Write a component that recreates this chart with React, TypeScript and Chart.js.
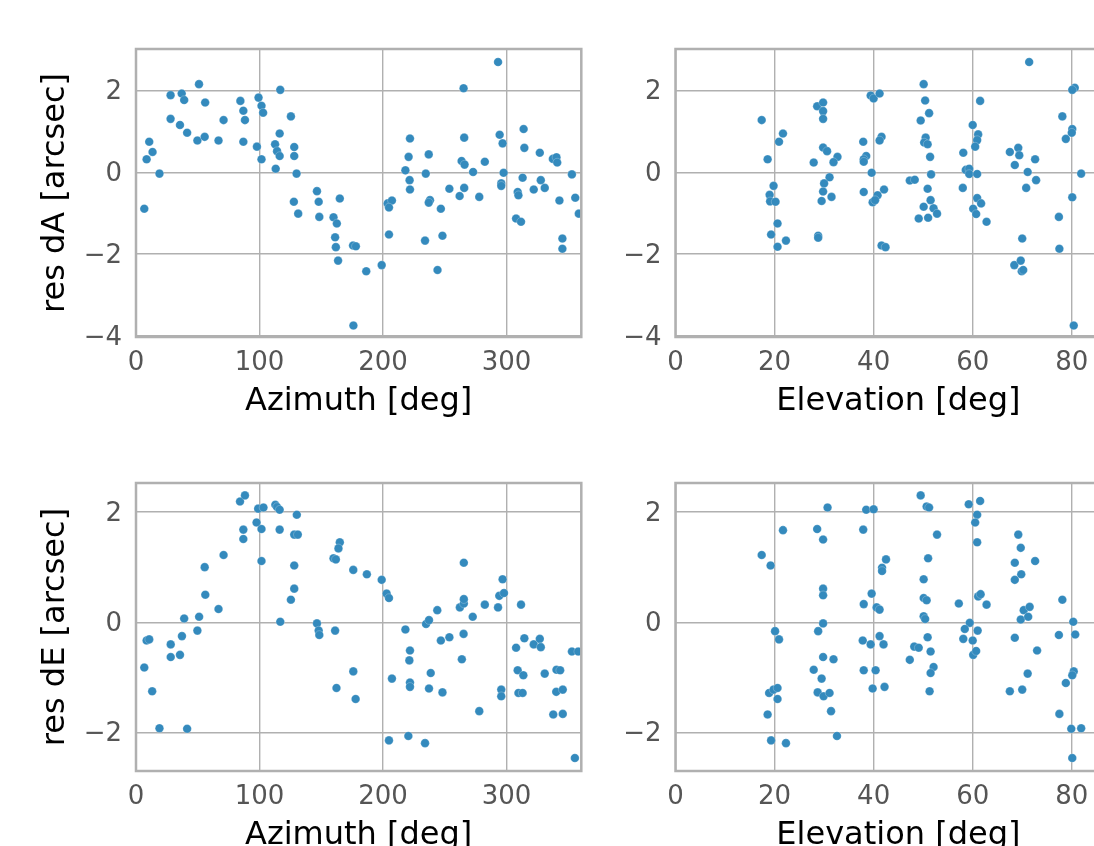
import React, { useEffect, useRef } from "react";
import { Chart, registerables } from "chart.js";
Chart.register(...registerables);

// ---- tick labels ----
const azTicks = [0, 100, 200, 300];
const elTicks = [0, 20, 40, 60, 80];
const dATicks = [-4, -2, 0, 2];
const dETicks = [-2, 0, 2];

// ---- top-left: residual dA vs azimuth ----
const azForDA = [6.7, 10.7, 13.4, 8.6, 19, 28, 28, 35.6, 37, 39, 41.4, 51, 56, 49.7, 55.6, 66.8, 70.9, 84.5, 86.9, 88.2, 86.9, 99.2, 101.6, 102.9, 97.9, 101.6, 116.8, 116.3, 112.6, 114.2, 116.3, 113.1, 125.4, 128.1, 128.1, 130, 127.8, 131.3, 146.5, 147.9, 148.4, 159.9, 162.6, 165, 161.2, 161.8, 163.6, 175.7, 178, 176, 186.4, 198.9, 204.8, 203.7, 207.2, 204.8, 221.8, 220.7, 218.1, 221.5, 221.8, 237, 234.6, 238, 237, 246.8, 234, 248.1, 244.1, 253.7, 262, 265.7, 265.2, 265.7, 263.6, 266, 272.9, 277.9, 282.4, 293.1, 294.4, 296.8, 297.6, 295.7, 295.7, 309, 309.6, 307.7, 311.7, 313.8, 314.4, 313, 322, 326.9, 327.7, 330.9, 337.5, 340.4, 341, 342.8, 345.2, 345.2, 352.9, 355.6, 358.5];
const dAvsAz = [-0.89, 0.75, 0.5, 0.32, -0.03, 1.89, 1.31, 1.16, 1.93, 1.77, 0.97, 2.16, 1.71, 0.78, 0.87, 0.78, 1.28, 1.75, 1.51, 1.28, 0.75, 1.83, 1.63, 1.46, 0.63, 0.32, 2.02, 0.95, 0.69, 0.52, 0.4, 0.09, 1.37, 0.62, 0.4, -0.03, -0.72, -1.01, -0.46, -0.72, -1.09, -1.1, -1.25, -0.64, -1.59, -1.83, -2.16, -1.79, -1.81, -3.75, -2.42, -2.27, -1.52, -0.76, -0.69, -0.86, 0.83, 0.38, 0.05, -0.19, -0.42, 0.44, -0.03, -0.68, -0.74, -0.89, -1.67, -1.55, -2.39, -0.4, -0.58, -0.38, 2.06, 0.85, 0.28, 0.19, 0.01, -0.6, 0.26, 2.7, 0.92, 0.71, -0.01, -0.27, -0.33, -0.48, -0.56, -1.13, -1.21, 1.06, 0.6, -0.13, -0.42, 0.48, -0.19, -0.38, 0.33, 0.37, 0.24, -0.69, -1.62, -1.87, -0.05, -0.62, -1.01];

// ---- top-right: residual dA vs elevation ----
const elForDA = [17.4, 21.7, 20.9, 18.6, 19.8, 19.0, 19.1, 20.2, 20.6, 19.3, 22.3, 20.6, 28.6, 29.8, 29.8, 29.8, 29.8, 30.6, 32.7, 31.9, 27.9, 31.1, 30.0, 29.8, 31.5, 29.5, 28.8, 28.8, 39.4, 40.0, 41.2, 37.9, 41.6, 41.2, 38.5, 38.0, 38.0, 39.6, 38.0, 42.1, 40.8, 39.8, 40.3, 41.6, 42.4, 50.1, 50.4, 51.2, 49.5, 50.5, 50.2, 50.9, 51.4, 51.6, 47.3, 48.3, 50.9, 51.5, 50.1, 52.1, 52.8, 49.1, 51.0, 61.5, 60.0, 61.1, 60.9, 60.5, 58.1, 58.6, 59.3, 59.3, 60.9, 58.0, 60.9, 61.7, 60.1, 60.7, 62.8, 71.4, 67.5, 69.2, 69.4, 68.5, 72.6, 71.1, 72.8, 70.8, 70.0, 68.4, 69.7, 69.9, 70.2, 80.6, 80.1, 78.1, 80.1, 80.0, 78.8, 81.9, 80.1, 77.4, 77.5, 80.4];
const dAvsEl = [1.28, 0.95, 0.75, 0.32, -0.33, -0.55, -0.71, -0.72, -1.25, -1.52, -1.67, -1.82, 1.62, 1.71, 1.5, 1.31, 0.61, 0.52, 0.38, 0.25, 0.24, -0.12, -0.27, -0.47, -0.6, -0.7, -1.55, -1.6, 1.88, 1.81, 1.93, 0.75, 0.87, 0.78, 0.4, 0.32, 0.26, -0.01, -0.48, -0.42, -0.56, -0.73, -0.68, -1.79, -1.83, 2.16, 1.76, 1.45, 1.27, 0.85, 0.73, 0.69, 0.38, -0.05, -0.2, -0.18, -0.4, -0.68, -0.84, -0.88, -1.01, -1.13, -1.11, 1.75, 1.16, 0.93, 0.79, 0.63, 0.48, 0.06, 0.09, -0.04, -0.04, -0.38, -0.63, -0.76, -0.89, -1.02, -1.21, 2.7, 0.5, 0.6, 0.42, 0.18, 0.32, 0.01, -0.19, -0.38, -1.62, -2.27, -2.16, -2.42, -2.39, 2.07, 2.02, 1.37, 1.06, 0.97, 0.82, -0.03, -0.61, -1.09, -1.87, -3.75];

// ---- bottom-left: residual dE vs azimuth ----
const azForDE = [6.7, 8.6, 10.7, 13.1, 19.0, 41.4, 28.1, 28.1, 35.6, 37.2, 39.0, 49.7, 51.1, 56.1, 55.6, 66.8, 70.9, 84.2, 88.2, 86.9, 86.9, 98.9, 103.2, 97.6, 101.6, 101.6, 112.8, 114.2, 116.3, 116.3, 116.8, 130.2, 128.1, 131.0, 128.1, 128.1, 125.4, 146.5, 147.9, 148.4, 161.2, 165.0, 163.9, 159.9, 161.8, 162.3, 175.9, 175.9, 177.8, 186.9, 198.9, 202.9, 204.8, 207.2, 204.8, 220.5, 234.0, 218.1, 221.8, 221.3, 221.8, 221.8, 234.8, 237.2, 243.9, 238.6, 237.2, 248.1, 246.8, 253.7, 265.2, 263.8, 265.4, 262.2, 265.4, 265.4, 272.6, 282.4, 277.9, 293.1, 294.1, 297.9, 296.8, 295.7, 295.7, 311.7, 307.7, 314.4, 309, 313.6, 309.6, 313, 322, 326.9, 327.7, 330.9, 340.4, 343.4, 340.2, 345.5, 337.8, 345.5, 352.9, 358, 355.3];
const dEvsAz = [-0.82, -0.33, -0.31, -1.25, -1.92, -1.93, -0.4, -0.63, -0.59, -0.25, 0.07, -0.15, 0.1, 0.5, 1.0, 0.24, 1.22, 2.19, 2.3, 1.68, 1.51, 2.06, 2.08, 1.81, 1.69, 1.11, 2.13, 2.09, 2.04, 1.68, 0.01, 1.95, 1.59, 1.59, 1.03, 0.61, 0.41, -0.02, -0.15, -0.23, -0.15, 1.45, 1.34, 1.16, 1.14, -1.19, 0.95, -0.89, -1.39, 0.87, 0.77, 0.52, 0.44, -1.02, -2.14, -2.06, -2.19, -0.13, -0.51, -0.69, -1.09, -1.17, -0.03, 0.04, 0.22, -0.92, -1.2, -1.27, -0.33, -0.27, -0.21, -0.67, 1.08, 0.27, 0.34, 0.42, 0.1, 0.32, -1.61, 0.27, 0.48, 0.53, 0.78, -1.22, -1.34, 0.32, -0.46, -0.29, -0.87, -0.96, -1.28, -1.28, -0.4, -0.3, -0.45, -0.93, -0.86, -0.87, -1.26, -1.22, -1.67, -1.66, -0.53, -0.53, -2.46];

// ---- bottom-right: residual dE vs elevation ----
const elForDE = [17.4, 19.2, 21.7, 20.1, 20.9, 18.9, 19.8, 20.6, 20.6, 18.6, 19.3, 22.3, 30.7, 28.6, 29.8, 29.8, 29.8, 29.8, 28.8, 29.8, 31.9, 27.9, 29.5, 28.7, 29.9, 31.1, 31.4, 32.6, 38.5, 40.0, 37.9, 42.5, 41.7, 41.7, 39.6, 38.0, 40.6, 41.2, 37.8, 39.4, 41.2, 42.0, 38.0, 40.4, 39.8, 42.2, 49.5, 50.7, 51.2, 52.8, 51.0, 50.1, 50.1, 50.7, 57.2, 50.1, 50.4, 50.9, 48.2, 49.1, 51.5, 47.3, 52.1, 51.5, 51.3, 59.2, 61.5, 60.9, 60.5, 60.9, 61.1, 61.6, 62.8, 59.4, 58.4, 58.1, 60.0, 61.0, 60.1, 60.7, 69.2, 69.7, 68.5, 72.6, 69.8, 68.5, 70.3, 71.5, 69.7, 71.2, 68.5, 73.0, 71.1, 67.5, 70.0, 78.1, 80.3, 77.4, 80.7, 80.4, 80.1, 78.8, 77.5, 79.9, 81.9, 80.1];
const dEvsEl = [1.22, 1.03, 1.67, -0.16, -0.31, -1.28, -1.22, -1.19, -1.39, -1.67, -2.14, -2.19, 2.08, 1.69, 1.5, 0.61, 0.49, -0.02, -0.16, -0.63, -0.67, -0.86, -1.02, -1.27, -1.34, -1.28, -1.61, -2.06, 2.04, 2.05, 1.68, 1.14, 0.99, 0.93, 0.52, 0.33, 0.27, 0.23, -0.33, -0.4, -0.25, -0.4, -0.87, -0.87, -1.2, -1.17, 2.3, 2.1, 2.08, 1.59, 1.16, 0.78, 0.44, 0.4, 0.34, 0.11, 0.06, -0.27, -0.44, -0.46, -0.53, -0.68, -0.81, -0.92, -1.25, 2.14, 2.2, 1.95, 1.81, 1.45, 0.47, 0.51, 0.32, -0.01, -0.12, -0.3, -0.33, -0.15, -0.59, -0.52, 1.59, 1.35, 1.08, 1.11, 0.87, 0.77, 0.22, 0.28, 0.05, 0.1, -0.28, -0.51, -0.93, -1.25, -1.22, 0.41, 0.01, -0.23, -0.22, -0.89, -0.96, -1.1, -1.66, -1.93, -1.92, -2.46];

const FONT = "'DejaVu Sans', sans-serif";
const GRID = "#b0b0b0";
const DOT = "#348ABD";
const PAD_TOP = 30;
const XAXIS_H = 90;
const PLOT_H = 288;
const TICK_SIZE = 26;

const fmt = (v: number) => (v < 0 ? "\u2212" + Math.abs(v) : String(v));

const spinePlugin = {
  id: "spines",
  afterDraw(chart: any) {
    const { ctx, chartArea: a } = chart;
    ctx.save();
    ctx.strokeStyle = GRID;
    ctx.lineWidth = 2.5;
    ctx.strokeRect(a.left, a.top, a.right - a.left, a.bottom - a.top);
    ctx.restore();
  },
};

type PanelProps = {
  left: number;
  top: number;
  yAxisW: number;
  plotW: number;
  xs: number[];
  ys: number[];
  xMin: number;
  xMax: number;
  yMin: number;
  yMax: number;
  xTicks: number[];
  yTicks: number[];
  xLabel: string;
  yLabel?: string;
};

function Panel(p: PanelProps) {
  const ref = useRef<HTMLCanvasElement | null>(null);
  const width = p.yAxisW + p.plotW;
  const height = PAD_TOP + PLOT_H + XAXIS_H;
  useEffect(() => {
    if (!ref.current) return;
    const chart = new Chart(ref.current, {
      type: "scatter",
      data: {
        datasets: [
          {
            data: p.xs.map((x, i) => ({ x, y: p.ys[i] })),
            backgroundColor: DOT,
            borderColor: "rgba(255,255,255,0.6)",
            borderWidth: 0.4,
            pointRadius: 4.3,
          },
        ],
      },
      options: {
        animation: false,
        responsive: false,
        devicePixelRatio: 1,
        layout: { padding: { top: PAD_TOP, left: 0, right: 0, bottom: 0 } },
        plugins: { legend: { display: false }, tooltip: { enabled: false } },
        scales: {
          x: {
            type: "linear",
            min: p.xMin,
            max: p.xMax,
            afterBuildTicks: (s: any) => {
              s.ticks = p.xTicks.map((v) => ({ value: v }));
            },
            afterFit: (s: any) => {
              s.height = XAXIS_H;
            },
            grid: { color: GRID, lineWidth: 1.4, drawTicks: false },
            border: { display: false },
            ticks: {
              font: { family: FONT, size: TICK_SIZE, lineHeight: 1 },
              color: "#555555",
              padding: 13,
              maxRotation: 0,
              autoSkip: false,
              callback: (v: any) => fmt(Number(v)),
            },
            title: {
              display: true,
              text: p.xLabel,
              font: { family: FONT, size: 32, lineHeight: 1 },
              color: "#000000",
              padding: { top: 0, bottom: 9 },
            },
          },
          y: {
            type: "linear",
            min: p.yMin,
            max: p.yMax,
            afterBuildTicks: (s: any) => {
              s.ticks = p.yTicks.map((v) => ({ value: v }));
            },
            afterFit: (s: any) => {
              s.width = p.yAxisW;
            },
            grid: { color: GRID, lineWidth: 1.4, drawTicks: false },
            border: { display: false },
            ticks: {
              font: { family: FONT, size: TICK_SIZE, lineHeight: 1 },
              color: "#555555",
              padding: 14,
              labelOffset: 2,
              autoSkip: false,
              callback: (v: any) => fmt(Number(v)),
            },
            title: {
              display: !!p.yLabel,
              text: p.yLabel || "",
              font: { family: FONT, size: 32, lineHeight: 1 },
              color: "#000000",
              padding: { top: 40, bottom: 0 },
            },
          },
        },
      },
      plugins: [spinePlugin],
    } as any);
    return () => chart.destroy();
  }, []);
  return (
    <canvas
      ref={ref}
      width={width}
      height={height}
      style={{ position: "absolute", left: p.left, top: p.top, width, height }}
    />
  );
}

export default function App() {
  return (
    <div
      style={{
        position: "fixed",
        left: 0,
        top: 0,
        width: 1094,
        height: 846,
        overflow: "hidden",
        background: "#ffffff",
      }}
    >
      <Panel left={0} top={19} yAxisW={136} plotW={450} xs={azForDA} ys={dAvsAz} xMin={0} xMax={360.5} yMin={-4.03} yMax={3.02} xTicks={azTicks} yTicks={dATicks} xLabel="Azimuth [deg]" yLabel="res dA [arcsec]" />
      <Panel left={595} top={19} yAxisW={80.5} plotW={450.5} xs={elForDA} ys={dAvsEl} xMin={0} xMax={90} yMin={-4.03} yMax={3.02} xTicks={elTicks} yTicks={dATicks} xLabel="Elevation [deg]" />
      <Panel left={0} top={453} yAxisW={136} plotW={450} xs={azForDE} ys={dEvsAz} xMin={0} xMax={360.5} yMin={-2.695} yMax={2.525} xTicks={azTicks} yTicks={dETicks} xLabel="Azimuth [deg]" yLabel="res dE [arcsec]" />
      <Panel left={595} top={453} yAxisW={80.5} plotW={450.5} xs={elForDE} ys={dEvsEl} xMin={0} xMax={90} yMin={-2.695} yMax={2.525} xTicks={elTicks} yTicks={dETicks} xLabel="Elevation [deg]" />
    </div>
  );
}
